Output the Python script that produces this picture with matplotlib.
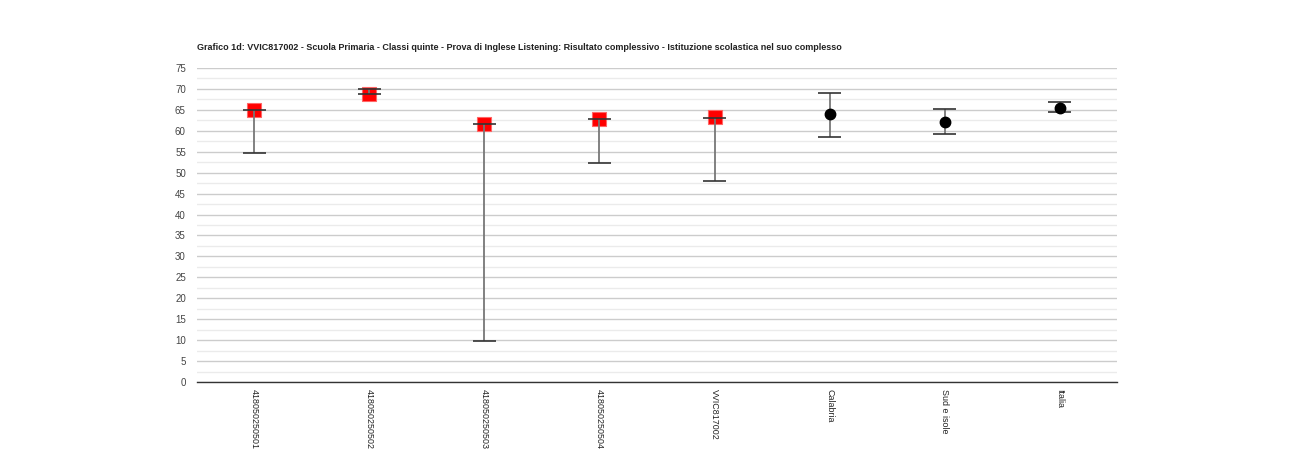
import matplotlib.pyplot as plt
import numpy as np

plt.rcParams['font.family'] = ['Liberation Sans', 'DejaVu Sans']

labels = ['418050250501', '418050250502', '418050250503', '418050250504',
          'VVIC817002', 'Calabria', 'Sud e isole', 'Italia']
values = [65.0, 68.9, 61.6, 62.7, 63.2, 63.9, 62.2, 65.5]
low = [54.6, 68.7, 9.8, 52.4, 47.9, 58.6, 59.2, 64.4]
high = [65.0, 70.1, 61.6, 62.7, 63.1, 69.1, 65.2, 66.8]
is_school = [True, True, True, True, True, False, False, False]

fig = plt.figure(figsize=(13.14, 4.5), dpi=100)
ax = fig.add_axes([0.1499, 0.1511, 0.7002, 0.6978])

x = np.arange(len(labels))
ax.set_xlim(-0.5, len(labels) - 0.5)
ax.set_ylim(0, 75)

ax.set_yticks(np.arange(0, 76, 5))
ax.set_yticks(np.arange(2.5, 75, 5), minor=True)
ax.grid(axis='y', which='major', color='#cccccc', linewidth=1)
ax.grid(axis='y', which='minor', color='#ebebeb', linewidth=1)
ax.set_axisbelow(True)

for i in x:
    v = values[i]
    if is_school[i]:
        ax.plot(i, v, marker='s', markersize=10, color='#ff0000',
                markeredgecolor='#ff6666', markeredgewidth=0.8, linestyle='none', zorder=2)
    else:
        ax.plot(i, v, marker='o', markersize=7.5, color='black', linestyle='none', zorder=4)
    ax.vlines(i, low[i], high[i], color='#777777', linewidth=1.3, zorder=3)
    ax.hlines([low[i], high[i]], i - 0.1, i + 0.1, color='#333333', linewidth=1.2, zorder=3)

ax.set_xticks(x)
ax.set_xticklabels(labels, rotation=270, fontsize=6.4, color='#222222', va='top')
ax.tick_params(axis='x', length=0, pad=5)
ax.tick_params(axis='y', which='both', length=0, labelsize=7, labelcolor='#444444', pad=8)

for s in ['top', 'right', 'left']:
    ax.spines[s].set_visible(False)
ax.spines['bottom'].set_color('#333333')
ax.spines['bottom'].set_linewidth(1)

fig.text(197 / 1314, 1 - 47 / 450,
         'Grafico 1d: VVIC817002 - Scuola Primaria - Classi quinte - Prova di Inglese Listening: '
         'Risultato complessivo - Istituzione scolastica nel suo complesso',
         fontsize=6.45, fontweight='bold', color='#222222', va='center', ha='left')

fig.savefig('out.png', dpi=100)
